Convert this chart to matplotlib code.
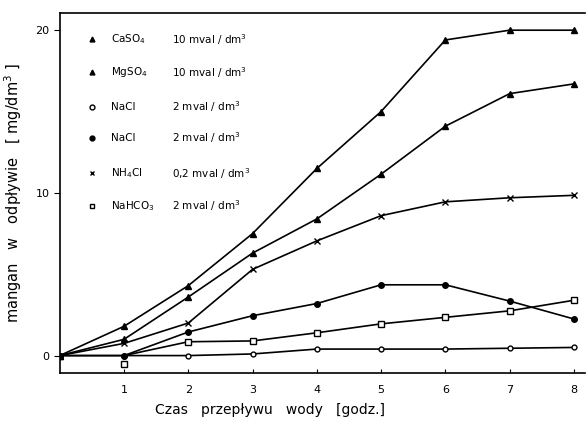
import numpy as np
import matplotlib
matplotlib.use('Agg')
import matplotlib.pyplot as plt

# czas przeplywu wody [godz.]
hours = [0, 1, 2, 3, 4, 5, 6, 7, 8]

# mangan w odplywie [mg/dm3]
caso4 = [0, 1.8, 4.3, 7.5, 11.5, 15.0, 19.4, 20.0, 20.0]
mgso4 = [0, 1.0, 3.6, 6.3, 8.4, 11.15, 14.1, 16.1, 16.7]
nacl_open = [0, 0, 0, 0.1, 0.4, 0.4, 0.4, 0.45, 0.5]
nacl_fill = [0, 0, 1.45, 2.45, 3.2, 4.35, 4.35, 3.35, 2.25]
nh4cl = [0, 0.75, 2.0, 5.3, 7.05, 8.6, 9.45, 9.7, 9.85]
nahco3 = [0, -0.5, 0.85, 0.9, 1.4, 1.95, 2.35, 2.75, 3.4]

names = ['CaSO$_4$', 'MgSO$_4$', 'NaCl', 'NaCl', 'NH$_4$Cl', 'NaHCO$_3$']
concs = ['10 mval / dm$^3$', '10 mval / dm$^3$', '2 mval / dm$^3$',
         '2 mval / dm$^3$', '0,2 mval / dm$^3$', '2 mval / dm$^3$']

fig = plt.figure(figsize=(5.86, 4.23), dpi=100)
ax = fig.add_axes([0.102, 0.119, 0.896, 0.850])

lw = 1.2
ax.plot(hours, caso4, color='k', lw=lw, marker='^', ms=4)
ax.plot(hours, mgso4, color='k', lw=lw, marker='^', ms=4)
ax.plot(hours, nacl_open, color='k', lw=lw, marker='o', ms=3.5, mfc='white')
ax.plot(hours, nacl_fill, color='k', lw=lw, marker='o', ms=4)
ax.plot(hours, nh4cl, color='k', lw=lw, marker='x', ms=4)
# NaHCO3 - pierwszy punkt (1 godz.) lezy ponizej linii
ax.plot(hours[1:], [0] + nahco3[2:], color='k', lw=lw)
ax.plot(hours[1:], nahco3[1:], ls='none', color='k', marker='s', ms=4, mfc='white')

# legenda w polu wykresu
markers = [('^', 'k'), ('^', 'k'), ('o', 'white'), ('o', 'k'), ('x', 'k'), ('s', 'white')]
rows_y = [19.45, 17.4, 15.3, 13.4, 11.2, 9.2]
for (m, fc), nm, cc, yy in zip(markers, names, concs, rows_y):
    ax.plot([0.5], [yy], ls='none', marker=m, color='k', mfc=fc, ms=3.5)
    ax.text(0.8, yy, nm, fontsize=7.5, va='center', ha='left')
    ax.text(1.75, yy, cc, fontsize=7.5, va='center', ha='left')

ax.set_xlim(0, 8.17)
ax.set_ylim(-1.05, 21.05)
ax.set_xticks([1, 2, 3, 4, 5, 6, 7, 8])
ax.set_yticks([0, 10, 20])
ax.set_yticklabels(['0', '10', '20'])
ax.tick_params(axis='x', direction='in', length=3, labelsize=8, pad=9)
ax.tick_params(axis='y', direction='out', length=4, labelsize=8)
ax.spines['right'].set_visible(False)
for s in ['left', 'top', 'bottom']:
    ax.spines[s].set_linewidth(1.2)

ax.set_xlabel('Czas   przepływu   wody   [godz.]', fontsize=10)
ax.xaxis.set_label_coords(0.40, -0.085)
ax.set_ylabel('mangan   w   odpływie   [ mg/dm$^3$ ]', fontsize=10.5, labelpad=8)

fig.savefig('out.png', dpi=100)
